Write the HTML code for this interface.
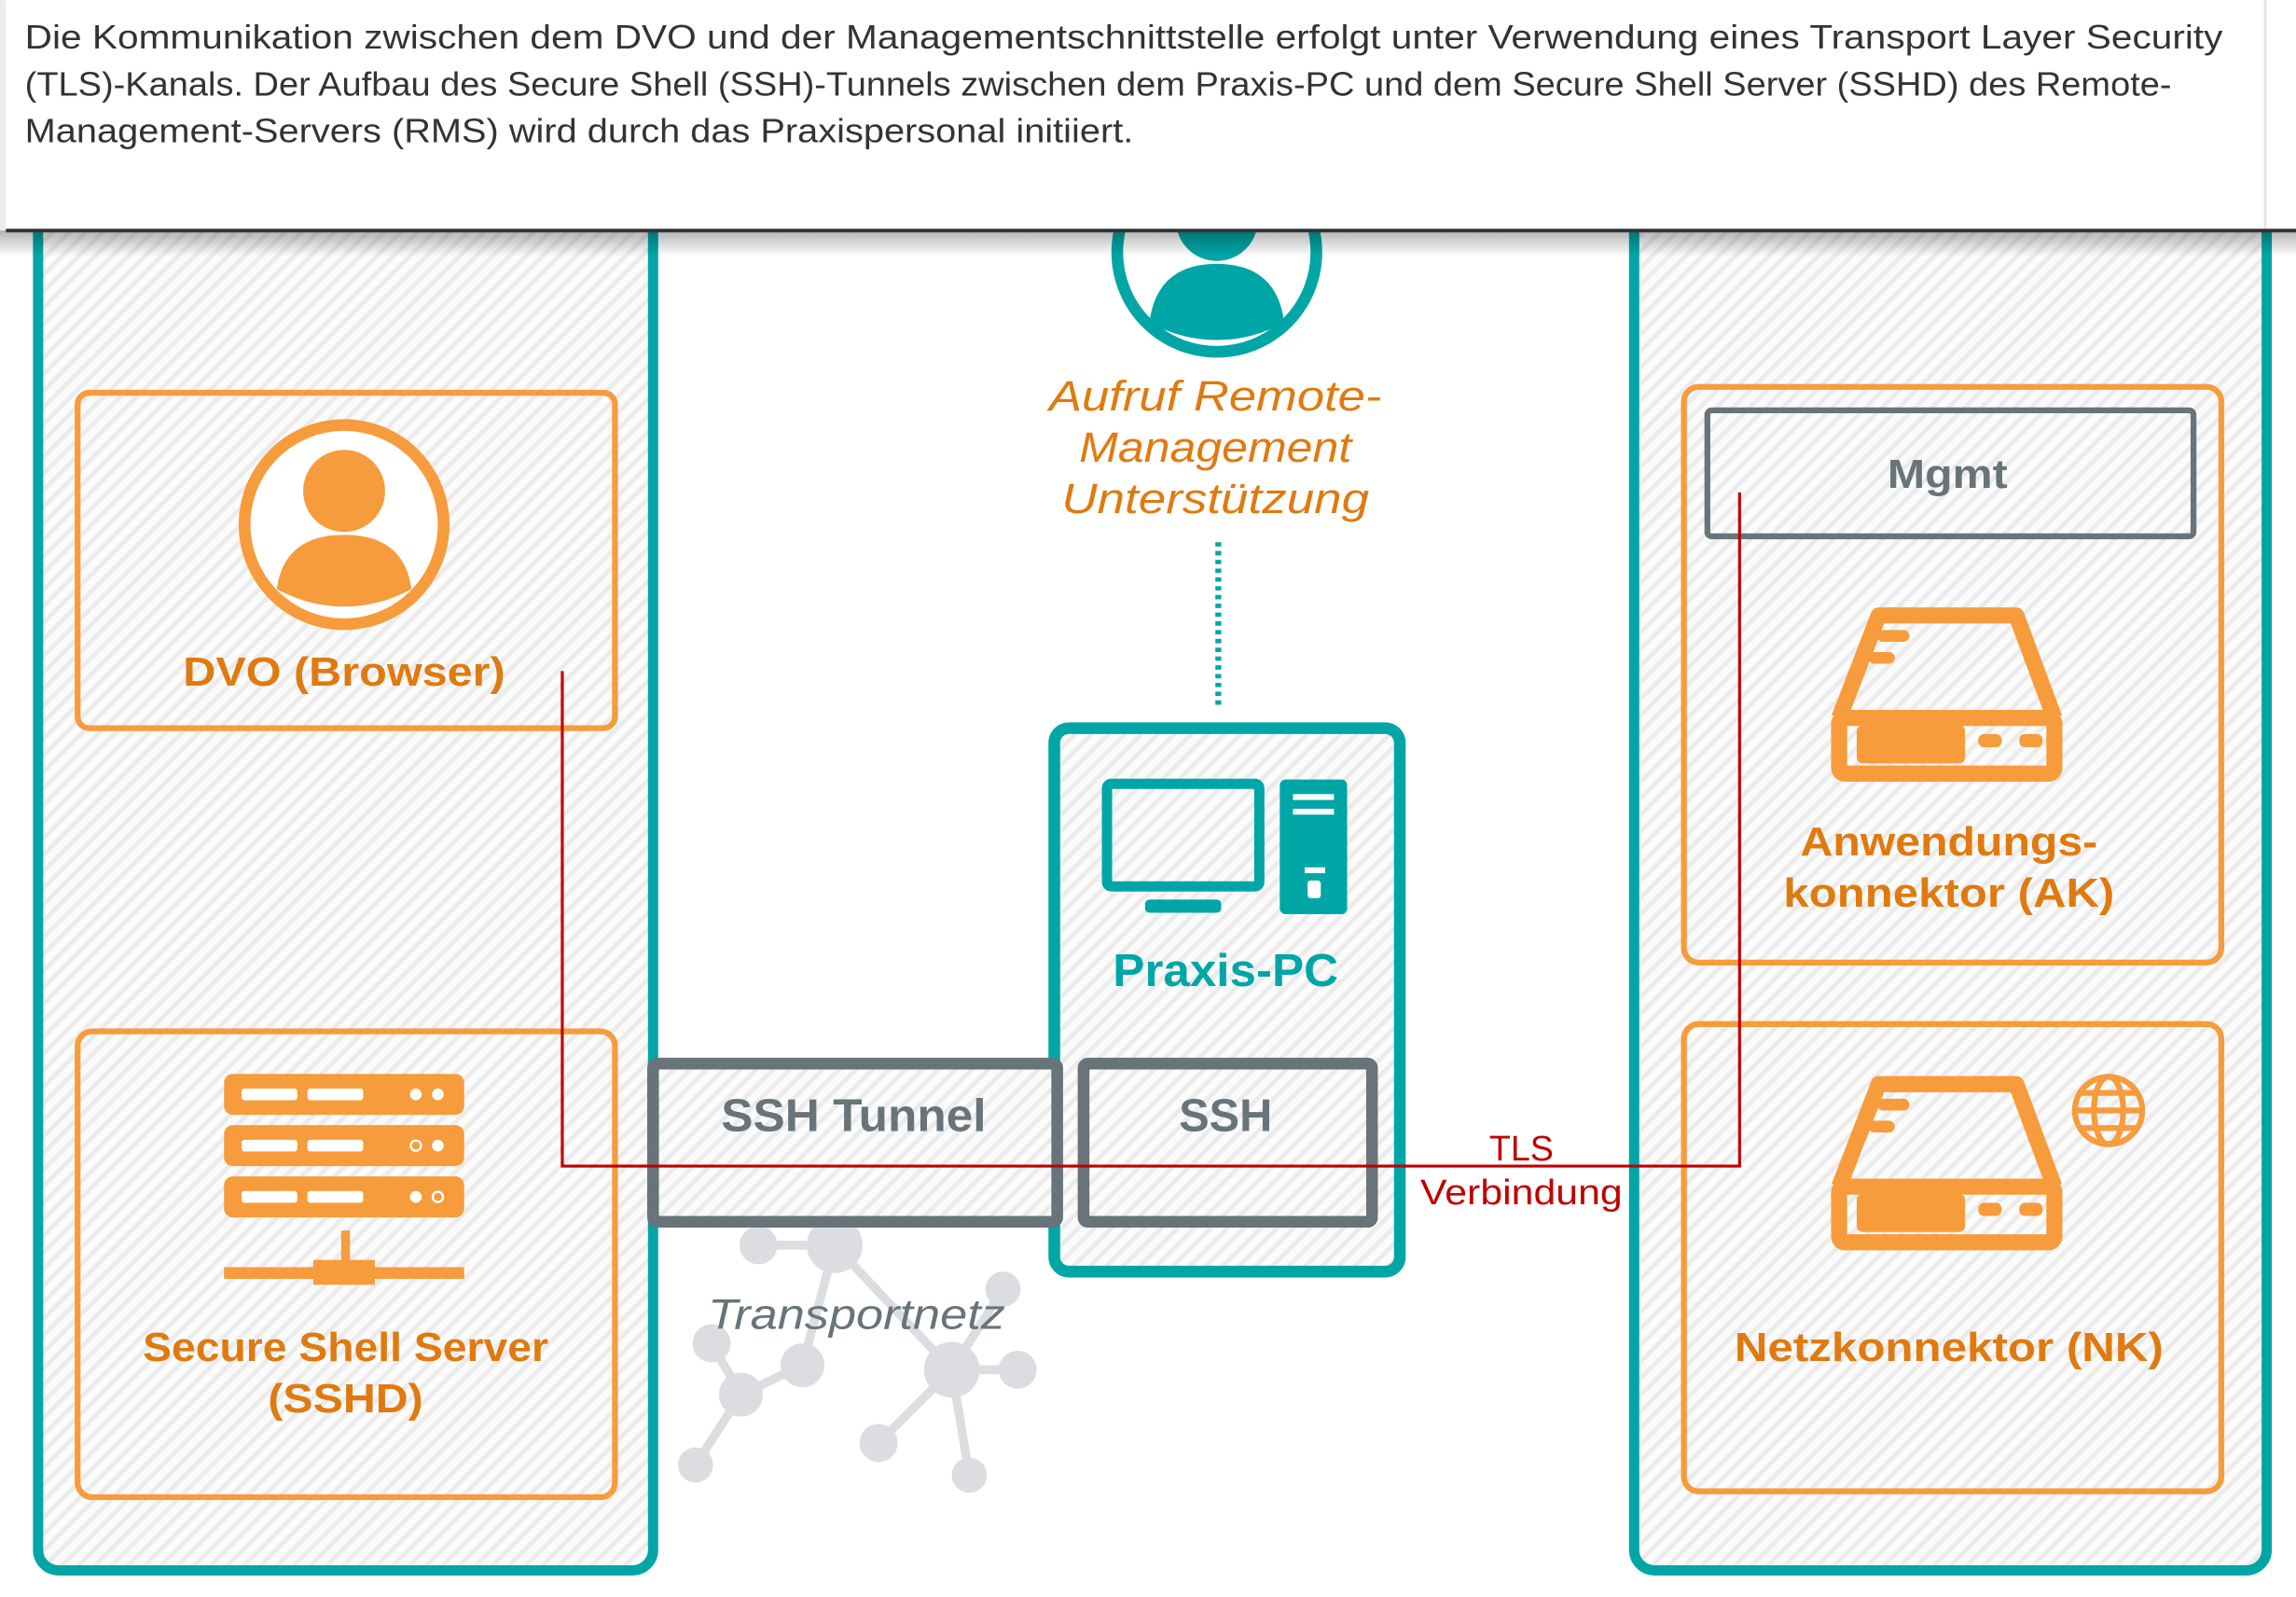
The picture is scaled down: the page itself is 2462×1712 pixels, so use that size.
<!DOCTYPE html>
<html><head><meta charset="utf-8"><style>
html,body{margin:0;padding:0;background:#fff;}
svg{display:block;}
</style></head><body>
<svg width="2462" height="1712" viewBox="0 0 1568 1090" xmlns="http://www.w3.org/2000/svg" font-family="'Liberation Sans', sans-serif">
<defs>
<pattern id="h" width="8" height="8" patternUnits="userSpaceOnUse" patternTransform="rotate(45)">
<rect width="8" height="8" fill="#fbfbfb"/><rect width="3" height="8" fill="#ebebeb"/>
</pattern>
<linearGradient id="sh" x1="0" y1="0" x2="0" y2="1"><stop offset="0" stop-color="#000" stop-opacity="0.3"/><stop offset="1" stop-color="#000" stop-opacity="0"/></linearGradient>
</defs>
<rect width="1568" height="1090" fill="#fff"/>
<rect x="26" y="110" width="420" height="962" rx="14" fill="url(#h)" stroke="#00a6a6" stroke-width="7"/>
<rect x="1116" y="110" width="432" height="962" rx="14" fill="url(#h)" stroke="#00a6a6" stroke-width="7"/>
<circle cx="831" cy="172" r="68" fill="#fff" stroke="#00a6a6" stroke-width="8"/>
<circle cx="831" cy="150" r="28" fill="#00a6a6"/>
<path d="M785 220 Q790 180 831 180 Q872 180 877 220 Q855 232 831 232 Q807 232 785 220Z" fill="#00a6a6"/>
<g fill="#e07a10" font-style="italic" font-size="29" text-anchor="middle">
<text x="830" y="280" textLength="227" lengthAdjust="spacingAndGlyphs">Aufruf Remote-</text>
<text x="830" y="315" textLength="186" lengthAdjust="spacingAndGlyphs">Management</text>
<text x="830" y="350" textLength="210" lengthAdjust="spacingAndGlyphs">Unterstützung</text>
</g>
<line x1="832" y1="370" x2="832" y2="482" stroke="#00a6a6" stroke-width="4" stroke-dasharray="3 3"/>
<g stroke="#dcdde0" stroke-width="6" fill="#dcdde0">
<line x1="518" y1="850" x2="570" y2="850"/><line x1="570" y1="850" x2="548" y2="932"/>
<line x1="570" y1="850" x2="650" y2="935"/><line x1="548" y1="932" x2="506" y2="952"/>
<line x1="506" y1="952" x2="475" y2="1000"/><line x1="486" y1="917" x2="506" y2="952"/>
<line x1="650" y1="935" x2="695" y2="935"/><line x1="650" y1="935" x2="685" y2="880"/>
<line x1="650" y1="935" x2="600" y2="985"/><line x1="650" y1="935" x2="662" y2="1007"/>
<circle cx="518" cy="850" r="10"/><circle cx="570" cy="850" r="16"/><circle cx="548" cy="932" r="12"/>
<circle cx="506" cy="952" r="12"/><circle cx="486" cy="917" r="10"/><circle cx="475" cy="1000" r="9"/>
<circle cx="650" cy="935" r="16"/><circle cx="695" cy="935" r="10"/><circle cx="685" cy="880" r="9"/>
<circle cx="600" cy="985" r="10"/><circle cx="662" cy="1007" r="9"/>
</g>
<text x="585" y="907" fill="#68747a" font-style="italic" font-size="29" text-anchor="middle" textLength="203" lengthAdjust="spacingAndGlyphs">Transportnetz</text>
<rect x="720" y="497" width="236" height="371" rx="10" fill="url(#h)" stroke="#00a6a6" stroke-width="8"/>
<rect x="756" y="535" width="104" height="70" rx="3" fill="none" stroke="#00a6a6" stroke-width="7"/>
<rect x="782" y="614" width="52" height="9" rx="3" fill="#00a6a6"/>
<rect x="874" y="532" width="46" height="92" rx="4" fill="#00a6a6"/>
<rect x="883" y="542" width="28" height="4" fill="#fff"/><rect x="883" y="552" width="28" height="4" fill="#fff"/>
<rect x="891" y="592" width="14" height="4" fill="#fff"/><rect x="893" y="601" width="9" height="12" rx="2" fill="#fff"/>
<text x="837" y="673" fill="#00a6a6" font-weight="bold" font-size="31" text-anchor="middle" textLength="154" lengthAdjust="spacingAndGlyphs">Praxis-PC</text>
<rect x="446" y="726" width="276" height="108" rx="3" fill="url(#h)" stroke="#68747a" stroke-width="8"/>
<rect x="740" y="726" width="197" height="108" rx="3" fill="url(#h)" stroke="#68747a" stroke-width="8"/>
<text x="583" y="772" fill="#68747a" font-weight="bold" font-size="31" text-anchor="middle" textLength="181" lengthAdjust="spacingAndGlyphs">SSH Tunnel</text>
<text x="837" y="772" fill="#68747a" font-weight="bold" font-size="31" text-anchor="middle">SSH</text>
<rect x="53" y="268" width="367" height="229" rx="8" fill="url(#h)" stroke="#f79c3c" stroke-width="4"/>
<circle cx="235" cy="358" r="68" fill="#fff" stroke="#f79c3c" stroke-width="8"/>
<circle cx="235" cy="335" r="28" fill="#f79c3c"/>
<path d="M189 402 Q194 365 235 365 Q276 365 281 402 Q259 414 235 414 Q211 414 189 402Z" fill="#f79c3c"/>
<text x="235" y="468" fill="#e07a10" font-weight="bold" font-size="28" text-anchor="middle" textLength="220" lengthAdjust="spacingAndGlyphs">DVO (Browser)</text>
<rect x="53" y="704" width="367" height="318" rx="10" fill="url(#h)" stroke="#f79c3c" stroke-width="4"/>
<g fill="#f79c3c">
<rect x="153" y="733" width="164" height="28" rx="6"/><rect x="153" y="768" width="164" height="28" rx="6"/><rect x="153" y="803" width="164" height="28" rx="6"/>
<rect x="233" y="840" width="6" height="25"/><rect x="153" y="865" width="164" height="8"/><rect x="214" y="860" width="42" height="17"/>
</g>
<g fill="#fff">
<rect x="165" y="743" width="38" height="8" rx="2"/><rect x="210" y="743" width="38" height="8" rx="2"/><circle cx="284" cy="747" r="4"/><circle cx="299" cy="747" r="4"/>
<rect x="165" y="778" width="38" height="8" rx="2"/><rect x="210" y="778" width="38" height="8" rx="2"/><circle cx="299" cy="782" r="4"/>
<rect x="165" y="813" width="38" height="8" rx="2"/><rect x="210" y="813" width="38" height="8" rx="2"/><circle cx="284" cy="817" r="4"/>
</g>
<circle cx="284" cy="782" r="3.5" fill="none" stroke="#fff" stroke-width="1.5"/><circle cx="299" cy="817" r="3.5" fill="none" stroke="#fff" stroke-width="1.5"/>
<g fill="#e07a10" font-weight="bold" font-size="28" text-anchor="middle">
<text x="236" y="929" textLength="277" lengthAdjust="spacingAndGlyphs">Secure Shell Server</text><text x="236" y="964" textLength="106" lengthAdjust="spacingAndGlyphs">(SSHD)</text></g>
<rect x="1150" y="264" width="367" height="393" rx="10" fill="url(#h)" stroke="#f79c3c" stroke-width="4"/>
<rect x="1166" y="280" width="332" height="86" rx="3" fill="url(#h)" stroke="#68747a" stroke-width="4"/>
<text x="1330" y="333" fill="#68747a" font-weight="bold" font-size="28" text-anchor="middle" textLength="82" lengthAdjust="spacingAndGlyphs">Mgmt</text>
<g fill="none" stroke="#f79c3c" stroke-width="11" stroke-linejoin="round">
<path d="M1256 490 L1283 420 L1377 420 L1403 490"/>
<rect x="1256" y="490" width="147" height="38" rx="4"/>
</g>
<g fill="#f79c3c"><rect x="1268" y="495" width="74" height="26" rx="4"/><rect x="1351" y="501" width="16" height="9" rx="4"/><rect x="1379" y="501" width="16" height="9" rx="4"/>
<rect x="1282" y="430" width="22" height="8" rx="4"/><rect x="1276" y="445" width="18" height="8" rx="4"/></g>
<g fill="#e07a10" font-weight="bold" font-size="28" text-anchor="middle">
<text x="1331" y="584" textLength="203" lengthAdjust="spacingAndGlyphs">Anwendungs-</text><text x="1331" y="619" textLength="226" lengthAdjust="spacingAndGlyphs">konnektor (AK)</text></g>
<rect x="1150" y="699" width="367" height="319" rx="10" fill="url(#h)" stroke="#f79c3c" stroke-width="4"/>
<g fill="none" stroke="#f79c3c" stroke-width="11" stroke-linejoin="round">
<path d="M1256 810 L1283 740 L1377 740 L1403 810"/>
<rect x="1256" y="810" width="147" height="38" rx="4"/>
</g>
<g fill="#f79c3c"><rect x="1268" y="815" width="74" height="26" rx="4"/><rect x="1351" y="821" width="16" height="9" rx="4"/><rect x="1379" y="821" width="16" height="9" rx="4"/>
<rect x="1282" y="750" width="22" height="8" rx="4"/><rect x="1276" y="765" width="18" height="8" rx="4"/></g>
<g fill="none" stroke="#f79c3c" stroke-width="4"><circle cx="1440" cy="758" r="23"/><ellipse cx="1440" cy="758" rx="10" ry="23"/><line x1="1417" y1="758" x2="1463" y2="758"/><path d="M1420 746 H1460 M1420 770 H1460"/></g>
<text x="1331" y="929" fill="#e07a10" font-weight="bold" font-size="28" text-anchor="middle" textLength="293" lengthAdjust="spacingAndGlyphs">Netzkonnektor (NK)</text>
<polyline points="384,458 384,796 1188,796 1188,336" fill="none" stroke="#c00000" stroke-width="2"/>
<g fill="#c00000" font-size="24" text-anchor="middle"><text x="1039" y="792">TLS</text><text x="1039" y="822" textLength="138" lengthAdjust="spacingAndGlyphs">Verbindung</text></g>
<rect x="0" y="157" width="1568" height="18" fill="url(#sh)"/>
<rect x="0" y="0" width="1568" height="157" fill="#fff"/>
<rect x="0" y="0" width="4" height="157" fill="#ececec"/>
<rect x="1546" y="0" width="2" height="157" fill="#e6e6e6"/>
<rect x="4" y="156" width="1564" height="2.5" fill="#333"/>
<g fill="#333" font-size="23">
<text x="17" y="33" textLength="1501" lengthAdjust="spacingAndGlyphs">Die Kommunikation zwischen dem DVO und der Managementschnittstelle erfolgt unter Verwendung eines Transport Layer Security</text>
<text x="17" y="65" textLength="1466" lengthAdjust="spacingAndGlyphs">(TLS)-Kanals. Der Aufbau des Secure Shell (SSH)-Tunnels zwischen dem Praxis-PC und dem Secure Shell Server (SSHD) des Remote-</text>
<text x="17" y="97" textLength="757" lengthAdjust="spacingAndGlyphs">Management-Servers (RMS) wird durch das Praxispersonal initiiert.</text>
</g>
</svg>
</body></html>
